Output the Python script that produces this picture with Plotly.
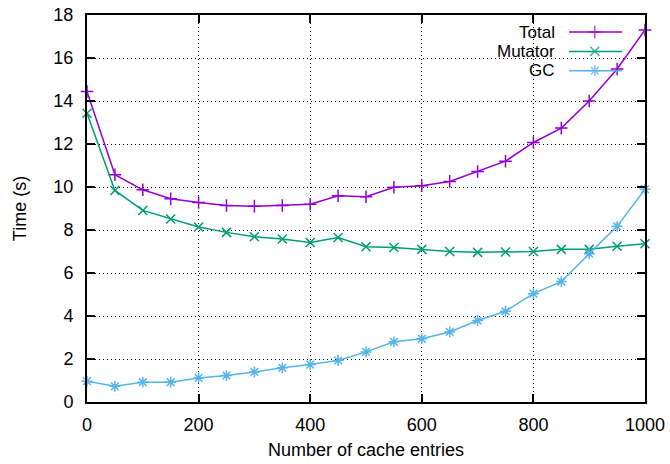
import plotly.graph_objects as go

# Cache size sweep: number of cache entries vs. run time (seconds)
entries = [0, 50, 100, 150, 200, 250, 300, 350, 400, 450, 500,
           550, 600, 650, 700, 750, 800, 850, 900, 950, 1000]
total = [14.44, 10.57, 9.87, 9.45, 9.28, 9.14, 9.11, 9.14, 9.20, 9.59, 9.55,
         9.99, 10.06, 10.26, 10.72, 11.20, 12.07, 12.74, 14.00, 15.49, 17.30]
mutator = [13.43, 9.84, 8.91, 8.51, 8.14, 7.89, 7.69, 7.58, 7.42, 7.65, 7.22,
           7.19, 7.10, 7.00, 6.96, 6.98, 7.00, 7.10, 7.10, 7.24, 7.36]
gc = [0.97, 0.73, 0.92, 0.92, 1.12, 1.23, 1.40, 1.59, 1.74, 1.93, 2.33,
      2.80, 2.94, 3.26, 3.79, 4.22, 5.04, 5.60, 6.90, 8.17, 9.90]

series = [
    ("Total", total, "#9400d3", "cross-thin-open"),
    ("Mutator", mutator, "#009e73", "x-thin-open"),
    ("GC", gc, "#56b4e9", "asterisk-open"),
]

FONT = "Liberation Sans, Arial, Helvetica, sans-serif"
FS = 18
KEY_FS = 17

fig = go.Figure()

for name, ys, color, sym in series:
    fig.add_trace(go.Scatter(
        x=entries, y=ys, name=name, mode="lines+markers",
        line=dict(color=color, width=1.5),
        marker=dict(symbol=sym, size=9, color=color,
                    line=dict(color=color, width=1.5)),
        cliponaxis=False, showlegend=False,
    ))

# Key in the top-right corner: label text to the left of a line sample
key_rows = [0.956, 0.906, 0.856]
key_x = [0.864, 0.910, 0.959]
for (name, ys, color, sym), ky in zip(series, key_rows):
    fig.add_trace(go.Scatter(
        x=key_x, y=[ky] * 3, mode="lines+markers", xaxis="x2", yaxis="y2",
        line=dict(color=color, width=1.5),
        marker=dict(symbol=sym, size=[0, 9, 0], color=color,
                    line=dict(color=color, width=1.5)),
        cliponaxis=False, showlegend=False, hoverinfo="skip",
    ))
    fig.add_annotation(
        x=0.842, y=ky, xref="paper", yref="paper", text=name,
        xanchor="right", yanchor="middle", showarrow=False,
        font=dict(family=FONT, size=KEY_FS, color="#000"),
    )

# opaque key box hides the grid behind the key
fig.add_shape(type="rect", xref="paper", yref="paper",
              x0=0.704, x1=1.0, y0=0.832, y1=1.0,
              fillcolor="white", line=dict(width=0), layer="between")

axis_common = dict(
    showline=True, linecolor="#000", linewidth=2, mirror="ticks",
    ticks="inside", ticklen=8, tickwidth=1.5, tickcolor="#000",
    showgrid=True, gridcolor="#000", gridwidth=1, griddash="1px,3px",
    zeroline=False, automargin=False,
    tickfont=dict(family=FONT, size=FS, color="#000"),
)

fig.update_layout(
    width=670, height=464,
    margin=dict(l=87, r=25, t=15, b=62, autoexpand=False),
    paper_bgcolor="white", plot_bgcolor="white",
    font=dict(family=FONT, size=FS, color="#000"),
    xaxis=dict(range=[0, 1000], dtick=200, tick0=0,
               title=dict(text="Number of cache entries", standoff=10,
                          font=dict(family=FONT, size=FS)),
               ticklabelstandoff=5, **axis_common),
    yaxis=dict(range=[0, 18], dtick=2, tick0=0,
               title=dict(text="Time (s)", standoff=22,
                          font=dict(family=FONT, size=FS)),
               ticklabelstandoff=8, **axis_common),
    xaxis2=dict(range=[0, 1], overlaying="x", visible=False, showgrid=False,
                automargin=False),
    yaxis2=dict(range=[0, 1], overlaying="y", visible=False, showgrid=False,
                automargin=False),
    showlegend=False,
)

fig.write_html("out.html")
